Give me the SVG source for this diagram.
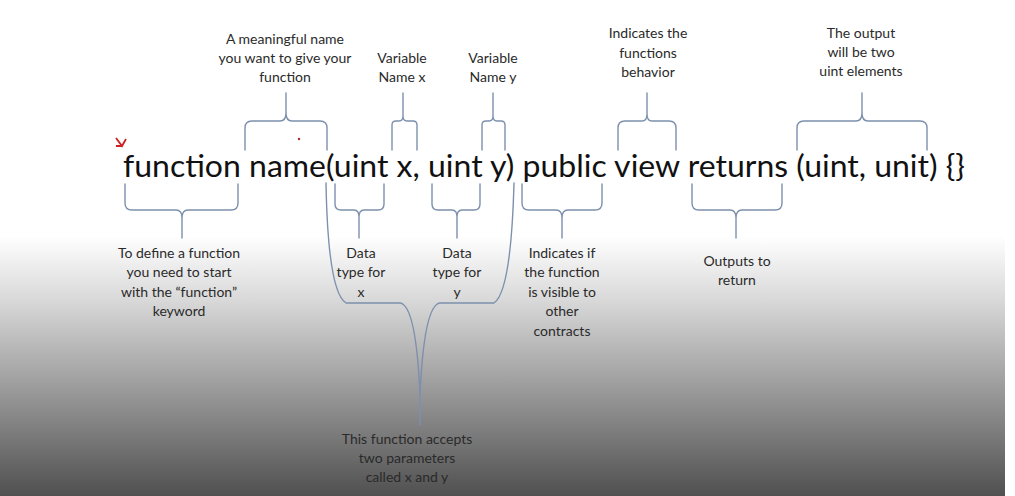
<svg xmlns="http://www.w3.org/2000/svg" width="1015" height="496" viewBox="0 0 1015 496">
<defs>
<linearGradient id="bg" x1="0" y1="0" x2="0" y2="1">
<stop offset="0" stop-color="#ffffff"/>
<stop offset="0.25" stop-color="#d8d8d8"/>
<stop offset="1" stop-color="#505050"/>
</linearGradient>
<style>
.b{fill:none;stroke:#7d90ad;stroke-width:1.4;stroke-linecap:round;stroke-linejoin:round}
.t{font-family:Lato,"Liberation Sans",sans-serif;font-size:14px;fill:#2a2a2a;text-anchor:middle}
.m{font-family:Lato,"Liberation Sans",sans-serif;font-size:30px;fill:#111}
</style>
</defs>
<rect x="0" y="0" width="1015" height="496" fill="#ffffff"/>
<rect x="0" y="236" width="1005" height="260" fill="url(#bg)"/>
<path d="M116,138 L122,146 L126,139 M122,146 L116,146" fill="none" stroke="#d02020" stroke-width="1.8"/>
<circle cx="299" cy="139" r="1.2" fill="#a03030"/>
<g id="code"><text class="m" x="123" y="177" textLength="842" lengthAdjust="spacingAndGlyphs">function name(uint x, uint y) public view returns (uint, unit) {}</text></g>
<g id="connectors">
<path class="b" d="M245,150 L245,128 Q245,121 252,121 L280,121 Q286,121 286,113 L286,93 M286,113 Q286,121 292,121 L320,121 Q327,121 327,128 L327,150"/>
<path class="b" d="M392,150 L392,125 Q392,121 396,121 L399,121 Q403,121 403,116 L403,93 M403,116 Q403,121 407,121 L413,121 Q417,121 417,125 L417,150"/>
<path class="b" d="M482,150 L482,125 Q482,121 486,121 L489,121 Q493,121 493,116 L493,93 M493,116 Q493,121 497,121 L501,121 Q505,121 505,125 L505,150"/>
<path class="b" d="M618,150 L618,128 Q618,121 625,121 L642,121 Q647,121 647,114 L647,93 M647,114 Q647,121 652,121 L669,121 Q676,121 676,128 L676,150"/>
<path class="b" d="M797,150 L797,128 Q797,121 804,121 L856,121 Q862,121 862,113 L862,93 M862,113 Q862,121 868,121 L920,121 Q927,121 927,128 L927,150"/>
<path class="b" d="M125,184 L125,203 Q125,210 132,210 L176,210 Q182,210 182,218 L182,238 M182,218 Q182,210 188,210 L231,210 Q238,210 238,203 L238,184"/>
<path class="b" d="M335,184 L335,204 Q335,210 341,210 L354,210 Q359,210 359,217 L359,238 M359,217 Q359,210 364,210 L378,210 Q384,210 384,204 L384,184"/>
<path class="b" d="M432,184 L432,204 Q432,210 438,210 L452,210 Q457,210 457,217 L457,238 M457,217 Q457,210 462,210 L474,210 Q480,210 480,204 L480,184"/>
<path class="b" d="M522,184 L522,203 Q522,210 529,210 L556,210 Q562,210 562,218 L562,238 M562,218 Q562,210 568,210 L595,210 Q602,210 602,203 L602,184"/>
<path class="b" d="M692,184 L692,203 Q692,210 699,210 L730,210 Q736,210 736,218 L736,238 M736,218 Q736,210 742,210 L775,210 Q782,210 782,203 L782,184"/>
<path class="b" d="M326,183 Q328,292 346,303 L400,303 Q416,305 420,395 L420,425"/>
<path class="b" d="M514,183 Q511,292 494,303 L440,303 Q424,305 420,395"/>
</g>
<g id="label-name"><text class="t" x="285" y="44">A meaningful name</text><text class="t" x="285" y="63">you want to give your</text><text class="t" x="285" y="82">function</text></g>
<g id="label-varx"><text class="t" x="402" y="63">Variable</text><text class="t" x="402" y="82">Name x</text></g>
<g id="label-vary"><text class="t" x="493" y="63">Variable</text><text class="t" x="493" y="82">Name y</text></g>
<g id="label-view"><text class="t" x="648" y="38">Indicates the</text><text class="t" x="648" y="58">functions</text><text class="t" x="648" y="77">behavior</text></g>
<g id="label-output"><text class="t" x="861" y="38">The output</text><text class="t" x="861" y="57">will be two</text><text class="t" x="861" y="76">uint elements</text></g>
<g id="label-function"><text class="t" x="179" y="258">To define a function</text><text class="t" x="179" y="277">you need to start</text><text class="t" x="179" y="297">with the “function”</text><text class="t" x="179" y="316">keyword</text></g>
<g id="label-typex"><text class="t" x="361" y="258">Data</text><text class="t" x="361" y="277">type for</text><text class="t" x="361" y="297">x</text></g>
<g id="label-typey"><text class="t" x="457" y="258">Data</text><text class="t" x="457" y="277">type for</text><text class="t" x="457" y="297">y</text></g>
<g id="label-public"><text class="t" x="562" y="258">Indicates if</text><text class="t" x="562" y="277">the function</text><text class="t" x="562" y="297">is visible to</text><text class="t" x="562" y="316">other</text><text class="t" x="562" y="336">contracts</text></g>
<g id="label-returns"><text class="t" x="737" y="266">Outputs to</text><text class="t" x="737" y="285">return</text></g>
<g id="label-params"><text class="t" x="407" y="444">This function accepts</text><text class="t" x="407" y="463">two parameters</text><text class="t" x="407" y="482">called x and y</text></g>
</svg>
